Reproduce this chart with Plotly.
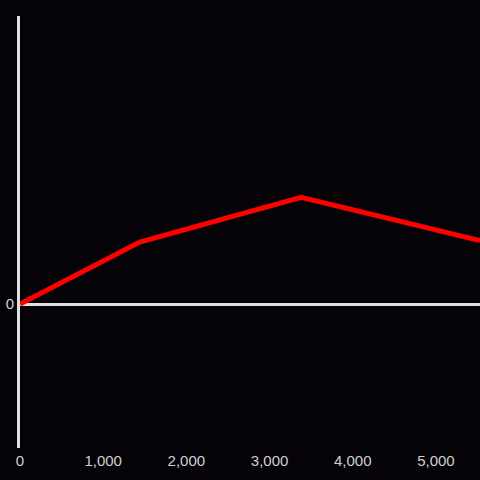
import plotly.graph_objects as go

x_values = [0, 1440, 3380, 5530]
y_values = [0, 0.43, 0.74, 0.44]
x_ticks = [0, 1000, 2000, 3000, 4000, 5000]
y_ticks = [0]

bg = "#050307"
axis_col = "#e0e0e0"
text_col = "#d0d0d0"

fig = go.Figure()
fig.add_trace(go.Scatter(x=x_values, y=y_values, mode="lines",
                         line=dict(color="#ff0000", width=5), cliponaxis=False))

fig.update_layout(
    width=480, height=480,
    paper_bgcolor=bg, plot_bgcolor=bg,
    margin=dict(l=20, r=0, t=16, b=32),
    showlegend=False,
    font=dict(family="Liberation Sans, Arial, sans-serif", size=15, color=text_col),
    xaxis=dict(range=[0, 5530], tickvals=x_ticks, tickformat=",",
               showgrid=False, zeroline=False, showline=False, ticks="",
               ticklabelstandoff=2),
    yaxis=dict(range=[-1, 2], tickvals=y_ticks, showgrid=False,
               zeroline=True, zerolinecolor=axis_col, zerolinewidth=3,
               showline=True, linecolor=axis_col, linewidth=3, ticks="",
               layer="below traces"),
)

fig.write_html("out.html",
               config={"displayModeBar": False},
               post_script="document.body.style.margin='0';document.body.style.background='%s';document.body.style.overflow='hidden';" % bg)
